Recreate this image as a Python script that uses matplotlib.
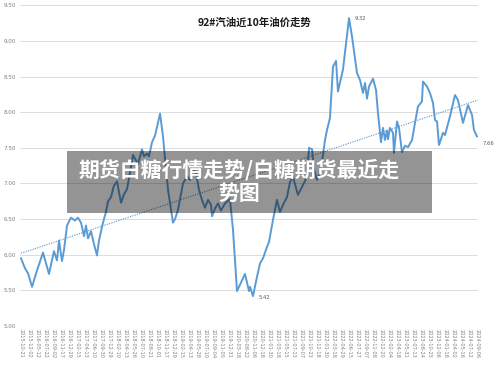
import numpy as np
import matplotlib.pyplot as plt
from matplotlib.patches import Rectangle

plt.rcParams['font.family'] = ['Noto Sans CJK SC', 'DejaVu Sans']

# x tick labels (one per tick, evenly spaced)
dates = ["2015-10-21", "2015-12-02", "2016-05-12", "2016-07-22", "2016-09-02",
         "2016-11-17", "2016-12-29", "2017-02-15", "2017-04-13", "2017-06-10",
         "2017-09-30", "2017-12-29", "2018-02-10", "2018-04-13", "2018-05-26",
         "2018-07-10", "2018-08-21", "2018-10-01", "2018-11-17", "2018-12-29",
         "2019-02-15", "2019-04-13", "2019-05-28", "2019-07-10", "2019-09-04",
         "2019-11-05", "2019-12-31", "2020-03-18", "2020-08-22", "2020-11-06",
         "2020-12-18", "2021-01-30", "2021-03-18", "2021-05-15", "2021-07-13",
         "2021-09-07", "2021-10-23", "2021-12-18", "2022-01-30", "2022-03-18",
         "2022-04-29", "2022-06-15", "2022-07-27", "2022-09-07", "2022-11-08",
         "2022-12-20", "2023-02-04", "2023-04-18", "2023-05-31", "2023-07-13",
         "2023-08-24", "2023-10-25", "2023-12-06", "2024-01-18", "2024-04-02",
         "2024-05-16", "2024-07-12", "2024-09-06"]

# price points, position measured in tick units along the date axis
pos = [0, 0.5, 0.88, 1.38, 2.0, 2.75, 3.5, 4.12, 4.5, 4.75, 5.12, 5.38, 5.75,
       6.25, 6.75, 7.12, 7.5, 7.88, 8.12, 8.38, 8.75, 9.12, 9.5, 9.75, 10.25,
       10.62, 10.88, 11.25, 11.62, 12.0, 12.5, 12.88, 13.25, 13.62, 14.0, 14.62,
       15.12, 15.38, 15.75, 16.0, 16.38, 16.75, 17.38, 17.75, 18.0, 18.38, 19.0,
       19.25, 19.62, 20.25, 20.75, 21.12, 21.5, 21.88, 22.25, 22.62, 23.0, 23.38,
       23.75, 23.88, 24.25, 24.62, 25.0, 25.5, 26.12, 26.5, 27.0, 27.38, 28.0,
       28.5, 28.62, 29.0, 29.5, 29.88, 30.25, 30.75, 31.0, 31.5, 32.0, 32.38,
       32.75, 33.25, 33.62, 34.0, 34.62, 35.12, 35.75, 36.0, 36.38, 36.62, 37.0,
       37.38, 37.75, 38.0, 38.25, 38.62, 39.0, 39.38, 39.62, 40.25, 41.0, 41.38,
       42.0, 42.38, 42.75, 43.0, 43.25, 43.5, 44.0, 44.38, 44.62, 45.0, 45.25,
       45.5, 45.75, 45.88, 46.12, 46.5, 46.62, 47.0, 47.25, 47.62, 48.0, 48.38,
       48.88, 49.25, 49.62, 50.12, 50.25, 50.75, 51.12, 51.5, 51.75, 52.0, 52.25,
       52.75, 53.0, 53.62, 54.25, 54.62, 55.25, 55.88, 56.38, 56.62, 57.0]
price = [5.95, 5.81, 5.74, 5.55, 5.78, 6.03, 5.73, 6.05, 5.92, 6.20, 5.91, 6.07,
         6.41, 6.52, 6.48, 6.52, 6.45, 6.26, 6.41, 6.23, 6.33, 6.15, 5.99, 6.20,
         6.45, 6.60, 6.75, 6.81, 6.97, 7.03, 6.73, 6.85, 6.92, 7.15, 7.40, 7.27,
         7.48, 7.38, 7.42, 7.38, 7.58, 7.67, 7.98, 7.66, 7.35, 6.91, 6.45, 6.50,
         6.63, 7.00, 7.10, 7.05, 7.19, 7.15, 6.91, 6.77, 6.66, 6.77, 6.70, 6.54,
         6.65, 6.72, 6.62, 6.72, 6.78, 6.35, 5.49, 5.58, 5.73, 5.49, 5.55, 5.42,
         5.69, 5.88, 5.95, 6.11, 6.18, 6.49, 6.77, 6.60, 6.70, 6.81, 7.02, 7.09,
         6.84, 6.95, 7.09, 7.50, 7.48, 7.20, 7.05, 7.15, 7.40, 7.61, 7.75, 7.92,
         8.64, 8.72, 8.29, 8.60, 9.32, 9.06, 8.55, 8.45, 8.27, 8.41, 8.19, 8.36,
         8.47, 8.31, 7.99, 7.58, 7.78, 7.61, 7.74, 7.62, 7.78, 7.71, 7.43, 7.87,
         7.78, 7.44, 7.53, 7.51, 7.61, 7.85, 8.08, 8.15, 8.43, 8.36, 8.27, 8.13,
         7.89, 7.87, 7.54, 7.71, 7.68, 7.94, 8.24, 8.17, 7.85, 8.10, 7.96, 7.75,
         7.66]

trend_pos = [0, 57.1]
trend_val = [6.02, 8.17]

yticks = [5.0, 5.5, 6.0, 6.5, 7.0, 7.5, 8.0, 8.5, 9.0, 9.5]

title = "92#汽油近10年油价走势"
banner = "期货白糖行情走势/白糖期货最近走\n势图"

W, H = 500, 365
fig = plt.figure(figsize=(W / 100, H / 100), dpi=100)
ax = fig.add_axes([20 / W, 1 - 326 / H, 458 / W, (326 - 5.3) / H])

ax.plot(trend_pos, trend_val, color="#5b8fc7", lw=0.8, ls=(0, (1, 1.2)))
ax.plot(pos, price, color="#5b9bd5", lw=1.4, solid_joinstyle="round")

ax.set_xlim(-0.125, 57.125)
ax.set_ylim(5.0, 9.5)
ax.set_yticks(yticks)
ax.set_yticklabels([f"{v:.2f}" for v in yticks], family="DejaVu Sans")
ax.set_xticks(range(len(dates)))
ax.set_xticklabels(dates, rotation=-90, family="DejaVu Sans")
ax.tick_params(axis="both", length=0, colors="#7f7f7f", pad=2)
ax.tick_params(axis="x", labelsize=3.6)
ax.tick_params(axis="y", labelsize=4.1, pad=3)
ax.grid(axis="y", color="#dcdcdc", lw=0.7)
ax.set_axisbelow(True)
for s in ax.spines.values():
    s.set_visible(False)

# point labels
i_max = int(np.argmax(price))
i_min = int(np.argmin(price))
ax.annotate(f"{price[i_max]:.2f}", (pos[i_max], price[i_max]), xytext=(4, 0),
            textcoords="offset points", fontsize=3.8, color="#595959",
            va="center", family="DejaVu Sans")
ax.annotate(f"{price[i_min]:.2f}", (pos[i_min], price[i_min]), xytext=(4, -1),
            textcoords="offset points", fontsize=3.8, color="#595959",
            va="center", family="DejaVu Sans")
ax.annotate(f"{price[-1]:.2f}", (pos[-1], price[-1]), xytext=(4, -5),
            textcoords="offset points", fontsize=3.8, color="#595959",
            va="center", family="DejaVu Sans")

fig.text(255 / W, 1 - 23 / H, title, ha="center", va="center",
         fontsize=7.5, fontweight="bold", color="#1a1a1a")

# overlay banner
fig.patches.append(Rectangle((67 / W, 1 - 213 / H), 365 / W, 62 / H,
                             transform=fig.transFigure, facecolor="black",
                             alpha=0.42, edgecolor="none", zorder=5))
fig.text(239 / W, 1 - 181 / H, banner, ha="center", va="center",
         fontsize=15, fontweight="bold", color="white", linespacing=1.15,
         zorder=6)

fig.savefig("out.png", dpi=100)
